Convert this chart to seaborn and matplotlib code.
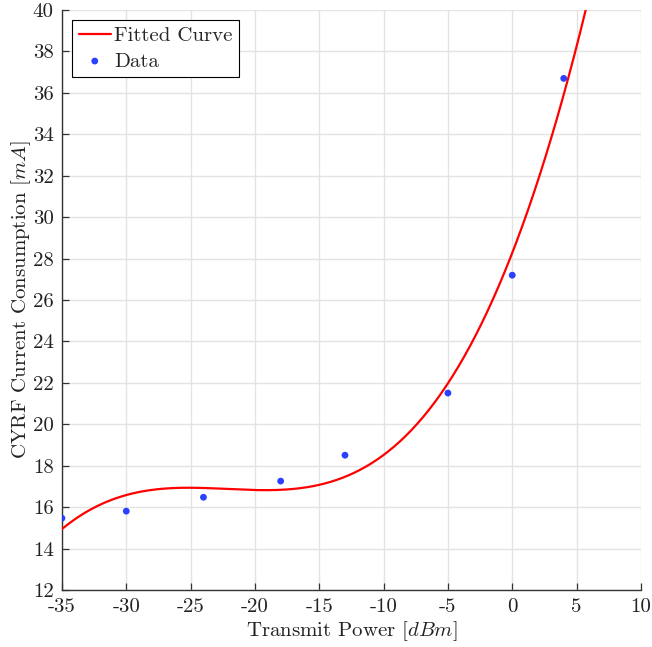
import numpy as np
import pandas as pd
import matplotlib
matplotlib.use("Agg")
import matplotlib.pyplot as plt
import seaborn as sns

# Measured CYRF current consumption at each transmit power setting
power_dbm = [-35, -30, -24, -18, -13, -5, 0, 4]
current_ma = [15.47, 15.81, 16.48, 17.26, 18.51, 21.51, 27.2, 36.7]

x_ticks = [-35, -30, -25, -20, -15, -10, -5, 0, 5, 10]
y_ticks = [12, 14, 16, 18, 20, 22, 24, 26, 28, 30, 32, 34, 36, 38, 40]

sns.set_style("white")
plt.rcParams["font.family"] = ["cmr10", "DejaVu Serif"]
plt.rcParams["mathtext.fontset"] = "cm"
plt.rcParams["axes.unicode_minus"] = False
plt.rcParams["axes.formatter.use_mathtext"] = True

data = pd.DataFrame({"power": power_dbm, "current": current_ma})

# Third-order polynomial fit of current vs. power
coeffs = np.polyfit(data["power"], data["current"], 3)
grid = np.linspace(-35, 10, 400)
fit = pd.DataFrame({"power": grid, "current": np.polyval(coeffs, grid)})

fig = plt.figure(figsize=(6.52, 6.47), dpi=100)
ax = fig.add_axes([0.095, 0.088, 0.888, 0.8965])

sns.lineplot(data=fit, x="power", y="current", color="red", linewidth=1.6,
             label="Fitted Curve", ax=ax, zorder=3)
sns.scatterplot(data=data, x="power", y="current", color="#1a30ff", s=24,
                edgecolor="none", alpha=0.92, label="Data", ax=ax, zorder=4)

ax.set_xlim(-35, 10)
ax.set_ylim(12, 40)
ax.set_xticks(x_ticks)
ax.set_yticks(y_ticks)
ax.set_xticklabels([str(v) for v in x_ticks])
ax.set_yticklabels([str(v) for v in y_ticks])
ax.grid(True, color="#e3e3e3", linewidth=1.0)
ax.set_axisbelow(True)
for side in ("top", "right"):
    ax.spines[side].set_visible(False)
for side in ("left", "bottom"):
    ax.spines[side].set_color("#333333")
    ax.spines[side].set_linewidth(1.0)
ax.tick_params(direction="in", length=5, width=0.9, color="#333333",
               labelsize=15, labelcolor="#222222", left=True, bottom=True, pad=6)

ax.set_xlabel(r"Transmit Power $[dBm]$", fontsize=15, color="#222222", labelpad=2)
ax.set_ylabel(r"CYRF Current Consumption $[mA]$", fontsize=15, color="#222222", labelpad=0)

leg = ax.legend(loc="upper left", fontsize=15, frameon=True, fancybox=False,
                edgecolor="black", framealpha=1, borderpad=0.3, labelspacing=0.32,
                handlelength=1.55, handletextpad=0.15, borderaxespad=0.5)
leg.get_frame().set_linewidth(0.8)

fig.savefig("out.png", dpi=100)
